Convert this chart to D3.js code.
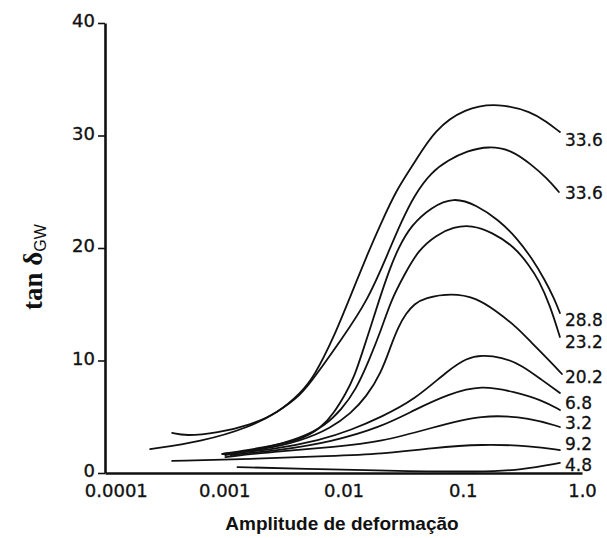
<!DOCTYPE html>
<html>
<head>
<meta charset="utf-8">
<script src="https://cdn.jsdelivr.net/npm/d3@7"></script>
<style>
  body { margin: 0; background: #fff; }
  .tick text { font-family: "DejaVu Sans", sans-serif; font-size: 18px; fill: #111; }
</style>
</head>
<body>
<div id="chart"></div>
<script>
// tick values
var xTicks = [0.0001, 0.001, 0.01, 0.1, 1];
var xTickLabels = ["0.0001", "0.001", "0.01", "0.1", "1.0"];
var yTicks = [0, 10, 20, 30, 40];

// curves: strain amplitude / tan delta
var strain1 = [0.000366, 0.000472, 0.000877, 0.00166, 0.00281, 0.00439, 0.00565, 0.00832, 0.0111, 0.0164, 0.0207, 0.0277, 0.0393, 0.0578, 0.1035, 0.200, 0.379, 0.507, 0.653];
var tan1    = [3.56, 3.29, 3.56, 4.27, 5.33, 7.11, 8.53, 12.09, 15.38, 19.82, 22.22, 25.16, 27.56, 30.49, 32.44, 32.89, 32.09, 31.2, 30.31];

var strain2 = [0.000239, 0.000631, 0.00166, 0.00281, 0.00439, 0.00565, 0.00953, 0.0161, 0.0242, 0.0305, 0.0393, 0.0546, 0.0759, 0.108, 0.165, 0.258, 0.379, 0.507, 0.640];
var tan2    = [2.13, 2.76, 4.09, 5.42, 6.93, 8.44, 11.82, 15.38, 19.82, 22.31, 24.71, 26.76, 27.82, 28.62, 29.07, 28.71, 27.38, 26.22, 24.98];

var strain3 = [0.000966, 0.00202, 0.00439, 0.00647, 0.00832, 0.0105, 0.0123, 0.0146, 0.0171, 0.0199, 0.0242, 0.0288, 0.0370, 0.0546, 0.0836, 0.131, 0.200, 0.284, 0.379, 0.488, 0.581, 0.653];
var tan3    = [1.69, 2.22, 2.93, 4.0, 5.33, 7.11, 8.53, 10.93, 13.16, 15.38, 18.04, 20.0, 22.04, 23.64, 24.53, 23.82, 22.49, 20.89, 19.11, 17.16, 15.56, 14.22];

var strain4 = [0.00102, 0.00222, 0.00439, 0.00713, 0.00953, 0.0127, 0.0164, 0.0207, 0.0251, 0.0323, 0.0424, 0.0601, 0.0836, 0.119, 0.175, 0.273, 0.358, 0.434, 0.538, 0.653];
var tan4    = [1.6, 2.22, 3.11, 4.27, 5.6, 7.38, 10.04, 12.71, 15.38, 17.6, 19.82, 21.16, 21.87, 22.04, 21.42, 20.09, 18.49, 17.16, 14.93, 12.09];

var strain5 = [0.000966, 0.00202, 0.00439, 0.00785, 0.0116, 0.0155, 0.0207, 0.0251, 0.0288, 0.0336, 0.0393, 0.0476, 0.0804, 0.131, 0.185, 0.284, 0.379, 0.507, 0.679];
var tan5    = [1.69, 2.04, 2.84, 4.0, 5.33, 6.76, 8.89, 11.38, 12.98, 14.22, 15.02, 15.56, 16.0, 15.56, 14.49, 12.98, 11.56, 10.22, 8.8];

var strain6 = [0.000966, 0.00245, 0.00647, 0.0116, 0.0207, 0.0393, 0.0759, 0.108, 0.144, 0.212, 0.312, 0.460, 0.653];
var tan6    = [1.69, 2.04, 2.93, 3.82, 4.98, 6.49, 9.16, 10.22, 10.49, 10.31, 9.6, 8.27, 7.11];

var strain7 = [0.00113, 0.00298, 0.00785, 0.0207, 0.0393, 0.0759, 0.144, 0.273, 0.460, 0.653];
var tan7    = [1.6, 2.04, 2.76, 4.09, 5.6, 7.02, 7.82, 7.2, 6.49, 5.6];

var strain8 = [0.00102, 0.00298, 0.00832, 0.0207, 0.0546, 0.144, 0.379, 0.653];
var tan8    = [1.42, 1.96, 2.31, 2.76, 4.0, 5.24, 4.89, 4.09];

var strain9 = [0.000366, 0.00166, 0.00785, 0.0207, 0.0546, 0.144, 0.379, 0.653];
var tan9    = [1.07, 1.24, 1.51, 1.69, 2.22, 2.58, 2.4, 2.04];

var strain10 = [0.00129, 0.00439, 0.0305, 0.144, 0.312, 0.653];
var tan10    = [0.53, 0.36, 0.18, 0.09, 0.27, 0.89];

// labels at the right end
var endLabels = ["33.6", "33.6", "28.8", "23.2", "20.2", "6.8", "3.2", "9.2", "4.8"];
var endLabelTan = [29.6, 24.9, 13.6, 11.6, 8.5, 6.2, 4.4, 2.6, 0.75];
var endLabelStrain = 0.72;

var width = 607, height = 538;

var svg = d3.select('#chart').append('svg')
    .attr('width', width)
    .attr('height', height);

var x = d3.scaleLog().domain([0.0001, 1]).range([105, 582]);
var y = d3.scaleLinear().domain([0, 40]).range([473, 23]);

var series = [
  [strain1, tan1], [strain2, tan2], [strain3, tan3], [strain4, tan4], [strain5, tan5],
  [strain6, tan6], [strain7, tan7], [strain8, tan8], [strain9, tan9], [strain10, tan10]
].map(function (s) { return s[0].map(function (v, i) { return [v, s[1][i]]; }); });

var line = d3.line()
    .x(d => x(d[0]))
    .y(d => y(d[1]))
    .curve(d3.curveBasis);

///curves
svg.append('g').selectAll('path')
    .data(series)
  .enter().append('path')
    .attr('d', line)
    .attr('fill', 'none')
    .attr('stroke', '#111')
    .attr('stroke-width', 1.8)
    .attr('stroke-linecap', 'round');

///axes
var yAxis = svg.append('g')
    .attr('transform', 'translate(105,0)')
    .call(d3.axisLeft(y).tickValues(yTicks).tickSize(7).tickSizeOuter(0).tickPadding(3));

var xAxis = svg.append('g')
    .attr('transform', 'translate(0,473)')
    .call(d3.axisBottom(x).tickValues(xTicks).tickFormat((d, i) => xTickLabels[i]).tickSize(0).tickSizeOuter(0).tickPadding(11));

// the first tick label sits a little to the right of the origin in the figure
xAxis.selectAll('.tick text').filter((d, i) => i === 0).attr('dx', '0.6em');
yAxis.selectAll('.tick text').attr('dy', '0.2em');

svg.selectAll('.domain').attr('stroke', '#111').attr('stroke-width', 2.6);
yAxis.selectAll('.tick line').attr('stroke', '#111').attr('stroke-width', 1.6);
svg.selectAll('.tick text').attr('stroke', '#111').attr('stroke-width', 0.35);

///end labels
svg.append('g').selectAll('text')
    .data(endLabels)
  .enter().append('text')
    .attr('x', x(endLabelStrain))
    .attr('y', (d, i) => y(endLabelTan[i]))
    .attr('dy', '0.35em')
    .style('font-family', '"DejaVu Sans", sans-serif')
    .style('font-size', '17px')
    .style('fill', '#111')
    .style('stroke', '#111')
    .style('stroke-width', 0.3)
    .text(d => d);

///axis titles
svg.append('text')
    .attr('x', 342)
    .attr('y', 530)
    .attr('text-anchor', 'middle')
    .style('font-family', '"Liberation Sans", Arial, sans-serif')
    .style('font-weight', 'bold')
    .style('font-size', '19px')
    .style('fill', '#111')
    .text('Amplitude de deformação');

var yTitle = svg.append('text')
    .attr('transform', 'translate(42,267) rotate(-90)')
    .attr('text-anchor', 'middle')
    .style('font-family', '"Liberation Serif", "Times New Roman", serif')
    .style('font-weight', 'bold')
    .style('font-size', '27px')
    .style('fill', '#111');
yTitle.append('tspan').text('tan δ');
yTitle.append('tspan')
    .attr('dy', '0.25em')
    .style('font-family', '"Liberation Sans", Arial, sans-serif')
    .style('font-weight', 'normal')
    .style('font-size', '16px')
    .text('GW');
</script>
</body>
</html>
